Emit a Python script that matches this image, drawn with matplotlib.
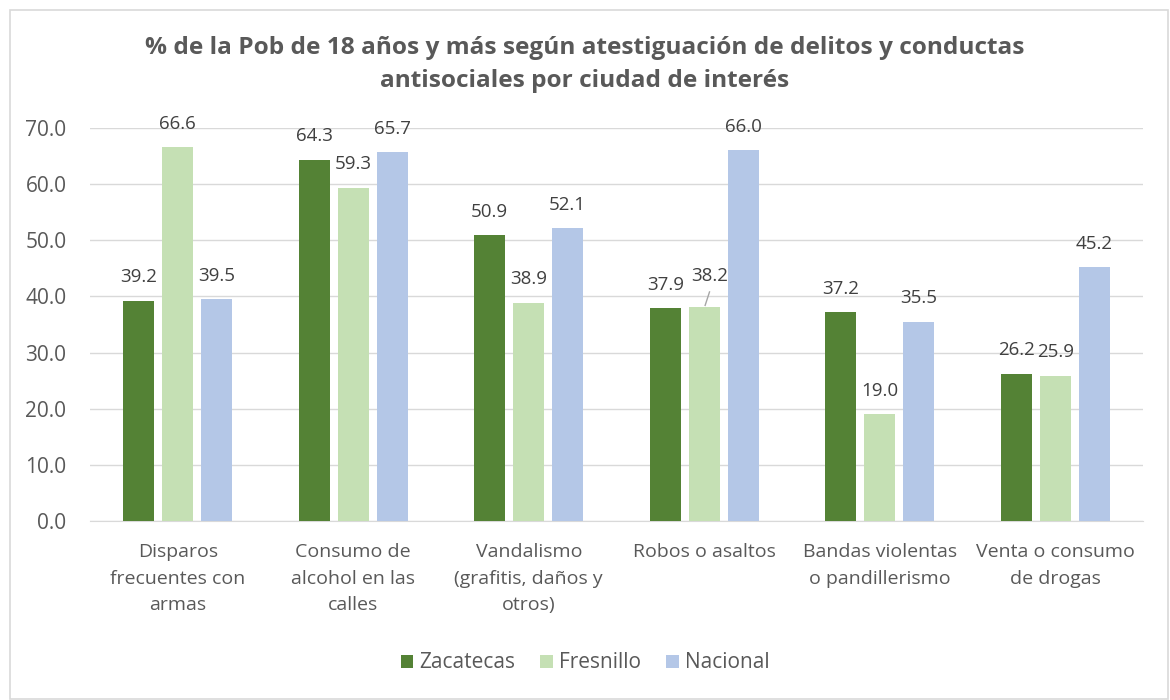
import matplotlib
matplotlib.use("Agg")
import matplotlib.pyplot as plt
import numpy as np
from matplotlib.patches import Rectangle

categories = ["Disparos\nfrecuentes con\narmas", "Consumo de\nalcohol en las\ncalles",
              "Vandalismo\n(grafitis, daños y\notros)", "Robos o asaltos",
              "Bandas violentas\no pandillerismo", "Venta o consumo\nde drogas"]
series_names = ["Zacatecas", "Fresnillo", "Nacional"]
zacatecas = [39.2, 64.3, 50.9, 37.9, 37.2, 26.2]
fresnillo = [66.6, 59.3, 38.9, 38.2, 19.0, 25.9]
nacional = [39.5, 65.7, 52.1, 66.0, 35.5, 45.2]
colors = ["#548235", "#C5E0B4", "#B4C7E7"]
yticks = [0, 10, 20, 30, 40, 50, 60, 70]

plt.rcParams['font.family'] = ['Open Sans', 'DejaVu Sans']
txt = "#595959"

fig = plt.figure(figsize=(11.7, 7.0), dpi=100)
fig.patches.append(Rectangle((10/1170, 0.002), 1 - 10/1170 - 0.002, 1 - 10/700 - 0.002,
                             transform=fig.transFigure, fill=False, edgecolor="#D9D9D9", lw=1.2))
ax = fig.add_axes([90/1170, 1 - 521/700, (1143 - 90)/1170, (521 - 128)/700])

x = np.arange(len(categories))
w = 0.177
off = 0.222
data = [zacatecas, fresnillo, nacional]
for i, (vals, name, c) in enumerate(zip(data, series_names, colors)):
    pos = x + (i - 1) * off
    ax.bar(pos, vals, width=w, color=c, label=name, zorder=3)
    for j, (p, v) in enumerate(zip(pos, vals)):
        if name == "Fresnillo" and j == 3:
            ax.plot([p + 0.005, p + 0.03], [v + 0.2, v + 2.6], color="#A6A6A6", lw=1, zorder=4)
            ax.text(p + 0.03, v + 5.4, f"{v:.1f}", ha="center", va="center", fontsize=13.5,
                    color="#404040", zorder=5)
        else:
            ax.text(p, v + 4.2, f"{v:.1f}", ha="center", va="center", fontsize=13.5, color="#404040")

ax.set_ylim(0, 70)
ax.set_xlim(-0.5, len(categories) - 0.5)
ax.set_yticks(yticks)
ax.set_yticklabels([f"{t:.1f}" for t in yticks], fontsize=15, color=txt)
ax.set_xticks(x)
ax.set_xticklabels(categories, fontsize=14, color=txt, linespacing=1.6)
ax.tick_params(axis="x", length=0, pad=16)
ax.tick_params(axis="y", length=0, pad=17)
ax.grid(axis="y", color="#D9D9D9", lw=1, zorder=0)
for s in ["top", "right", "left"]:
    ax.spines[s].set_visible(False)
ax.spines["bottom"].set_color("#D9D9D9")

fig.text(0.5, 1 - 64.5/700, "% de la Pob de 18 años y más según atestiguación de delitos y conductas\nantisociales por ciudad de interés",
         ha="center", va="center", fontsize=17.6, fontweight="bold", color=txt, linespacing=1.5)

ax.legend(loc="center", bbox_to_anchor=(0.5, 1 - 663/700), bbox_transform=fig.transFigure,
          ncol=3, frameon=False, fontsize=15, handlelength=0.6, handleheight=0.6,
          handletextpad=0.3, columnspacing=1.2, labelcolor=txt)

fig.savefig("out.png", dpi=100)
